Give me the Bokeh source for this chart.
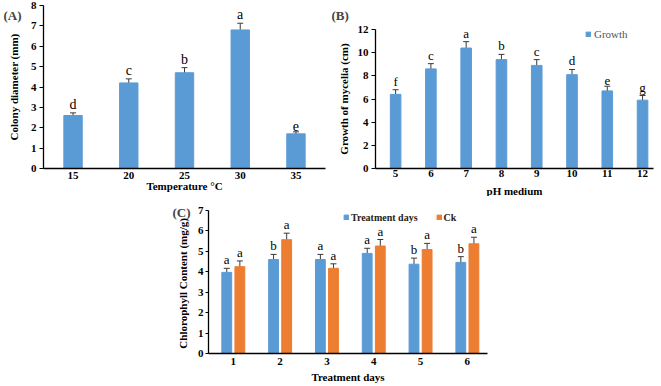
from bokeh.plotting import figure
from bokeh.models import (ColumnDataSource, Range1d, FixedTicker, Whisker, TeeHead,
                          Label, Legend, LegendItem, Spacer)
from bokeh.layouts import row, column
from bokeh.embed import file_html
from bokeh.resources import INLINE
from bokeh.core.properties import value

# ---------------- data ----------------
temps = ["15", "20", "25", "30", "35"]
colony = [2.6, 4.2, 4.7, 6.8, 1.7]
colony_err = [0.13, 0.2, 0.25, 0.33, 0.1]
colony_letters = ["d", "c", "b", "a", "e"]

ph = [5, 6, 7, 8, 9, 10, 11, 12]
growth = [6.4, 8.6, 10.4, 9.4, 8.9, 8.1, 6.7, 5.9]
growth_err = [0.4, 0.45, 0.55, 0.45, 0.5, 0.45, 0.4, 0.4]
growth_letters = ["f", "c", "a", "b", "c", "d", "e", "g"]

days = [1, 2, 3, 4, 5, 6]
treat = [3.97, 4.6, 4.6, 4.9, 4.37, 4.46]
treat_err = [0.2, 0.25, 0.25, 0.25, 0.3, 0.28]
treat_letters = ["a", "b", "a", "a", "b", "b"]
ck = [4.25, 5.57, 4.17, 5.26, 5.09, 5.37]
ck_err = [0.28, 0.32, 0.22, 0.32, 0.3, 0.32]
ck_letters = ["a", "a", "a", "a", "a", "a"]

BLUE = "#5B9BD5"
ORANGE = "#ED7D31"
SERIF = "Liberation Serif"
SERIF_VAL = value(SERIF)
ERRC = "#3a3a3a"


def span_range(v0, v1, p0, p1, total, flip=False):
    """Range so that values v0..v1 lie at pixels p0..p1 of a frame `total` px long.
    For y (flip=True) pixels are measured from the top."""
    if flip:
        p0, p1 = total - p0, total - p1
    scale = (p1 - p0) / (v1 - v0)
    return Range1d(v0 - p0 / scale, v1 + (total - p1) / scale)


def make_fig(w, h, x0, x1, px0, px1, y1, py0, py1):
    p = figure(width=w, height=h, output_backend="svg", toolbar_location=None,
               frame_align=False,
               x_range=span_range(x0, x1, px0, px1, w),
               y_range=span_range(0, y1, py0, py1, h, flip=True),
               min_border_left=0, min_border_right=0, min_border_top=0, min_border_bottom=0)
    p.grid.visible = False
    p.outline_line_color = None
    p.background_fill_color = "white"
    p.border_fill_color = "white"
    for ax in (p.xaxis[0], p.yaxis[0]):
        ax.axis_line_color = "black"
        ax.axis_line_width = 1.3
        ax.major_label_text_font = SERIF
        ax.major_label_text_font_style = "bold"
        ax.major_label_text_font_size = "11px"
        ax.major_label_text_color = "black"
        ax.axis_label_text_font = SERIF
        ax.axis_label_text_font_style = "bold"
        ax.axis_label_text_font_size = "11px"
        ax.axis_label_text_color = "black"
        ax.minor_tick_line_color = None
    p.yaxis.fixed_location = x0
    p.yaxis.bounds = (0, y1)
    p.yaxis.major_tick_out = 4
    p.yaxis.major_tick_in = 0
    p.yaxis.major_tick_line_color = "black"
    p.yaxis.major_label_standoff = 3
    p.xaxis.fixed_location = 0
    p.xaxis.bounds = (x0, x1)
    p.xaxis.major_tick_out = 0
    p.xaxis.major_tick_in = 0
    p.xaxis.major_tick_line_color = None
    return p


def add_err(p, x, top, err, color=ERRC):
    src = ColumnDataSource(dict(x=x, up=[t + e for t, e in zip(top, err)],
                                lo=[t - e for t, e in zip(top, err)]))
    w = Whisker(base="x", upper="up", lower="lo", source=src,
                line_color=color, line_width=1,
                upper_head=TeeHead(size=6, line_color=color, line_width=1),
                lower_head=TeeHead(size=6, line_color=color, line_width=1))
    p.add_layout(w)


def add_letters(p, x, top, err, letters, size):
    src = ColumnDataSource(dict(x=x, y=[t + e for t, e in zip(top, err)], t=letters))
    p.text(x="x", y="y", text="t", source=src, text_align="center",
           text_baseline="bottom", y_offset=-1, text_font=SERIF_VAL,
           text_font_size=size, text_color="black")


def panel_label(p, text, x, y):
    p.add_layout(Label(x=x, y=y, x_units="screen", y_units="screen", text=text,
                       text_font=SERIF, text_font_style="bold", text_font_size="13px",
                       text_baseline="middle"))


# ---------------- panel A ----------------
A_W, A_H = 330, 196
a0, a1 = -0.53, len(temps) - 1 + 0.53
pa = make_fig(A_W, A_H, a0, a1, 43, 325, 8, 168, 5)
xa = list(range(len(temps)))
pa.vbar(x=xa, top=colony, width=0.33, color=BLUE)
add_err(pa, xa, colony, colony_err)
add_letters(pa, xa, colony, colony_err, colony_letters, "14px")
pa.yaxis.axis_label_standoff = 8
pa.xaxis.major_label_standoff = 3
pa.xaxis.axis_label_standoff = -2
pa.xaxis.ticker = FixedTicker(ticks=xa)
pa.xaxis.major_label_overrides = {i: t for i, t in enumerate(temps)}
pa.yaxis.ticker = FixedTicker(ticks=list(range(0, 9)))
pa.xaxis.axis_label = "Temperature °C"
pa.yaxis.axis_label = "Colony diameter (mm)"
panel_label(pa, "(A)", 3, A_H - 15)

# ---------------- panel B ----------------
B_W, B_H = 331, 196
b0, b1 = 4.43, 12.31
pb = make_fig(B_W, B_H, b0, b1, 45, 323, 12, 168, 29)
rb = pb.vbar(x=ph, top=growth, width=0.3, color=BLUE)
add_err(pb, ph, growth, growth_err)
add_letters(pb, ph, growth, growth_err, growth_letters, "13px")
pb.yaxis.axis_label_standoff = 5
pb.xaxis.major_label_standoff = 1
pb.xaxis.axis_label_standoff = 5
pb.xaxis.ticker = FixedTicker(ticks=ph)
pb.yaxis.ticker = FixedTicker(ticks=list(range(0, 13, 2)))
pb.xaxis.axis_label = "pH medium"
pb.yaxis.axis_label = "Growth of mycelia (cm)"
legb = Legend(items=[LegendItem(label="Growth", renderers=[rb])], location=(255, 156),
              orientation="horizontal", glyph_width=6, glyph_height=6, label_standoff=3,
              label_text_font=SERIF, label_text_font_size="11px", label_text_color="#555555",
              label_height=12, padding=0, margin=0, border_line_color=None,
              background_fill_alpha=0)
pb.add_layout(legb)
panel_label(pb, "(B)", 1, B_H - 15)

# ---------------- panel C ----------------
C_W, C_H = 360, 190
c0, c1 = 0.47, 6.43
pc = make_fig(C_W, C_H, c0, c1, 58, 337, 7, 157, 14)
xt = [d - 0.14 for d in days]
xc = [d + 0.14 for d in days]
r1 = pc.vbar(x=xt, top=treat, width=0.21, color=BLUE)
r2 = pc.vbar(x=xc, top=ck, width=0.21, color=ORANGE)
add_err(pc, xt, treat, treat_err)
add_err(pc, xc, ck, ck_err)
add_letters(pc, xt, treat, treat_err, treat_letters, "13px")
add_letters(pc, xc, ck, ck_err, ck_letters, "13px")
pc.yaxis.axis_label_standoff = 6
pc.yaxis.major_tick_out = 3
pc.yaxis.major_label_standoff = 2
pc.xaxis.major_label_standoff = 4
pc.xaxis.axis_label_standoff = 3
pc.xaxis.ticker = FixedTicker(ticks=days)
pc.yaxis.ticker = FixedTicker(ticks=list(range(0, 8)))
pc.xaxis.axis_label = "Treatment days"
pc.yaxis.axis_label = "Chlorophyll  Content (mg/g)"
legc = Legend(items=[LegendItem(label="Treatment days", renderers=[r1]),
                     LegendItem(label="Ck", renderers=[r2])], location=(193, 163),
              orientation="horizontal", glyph_width=6, glyph_height=6, label_standoff=2,
              spacing=18, label_text_font=SERIF, label_text_font_style="bold",
              label_text_font_size="10px", label_text_color="#222222",
              label_height=12, padding=0, margin=0, border_line_color=None,
              background_fill_alpha=0)
pc.add_layout(legc)
panel_label(pc, "(C)", 22, C_H - 16)

layout = column(row(pa, pb), row(Spacer(width=150, height=C_H), pc))
open("out.html", "w").write(file_html(layout, INLINE))
